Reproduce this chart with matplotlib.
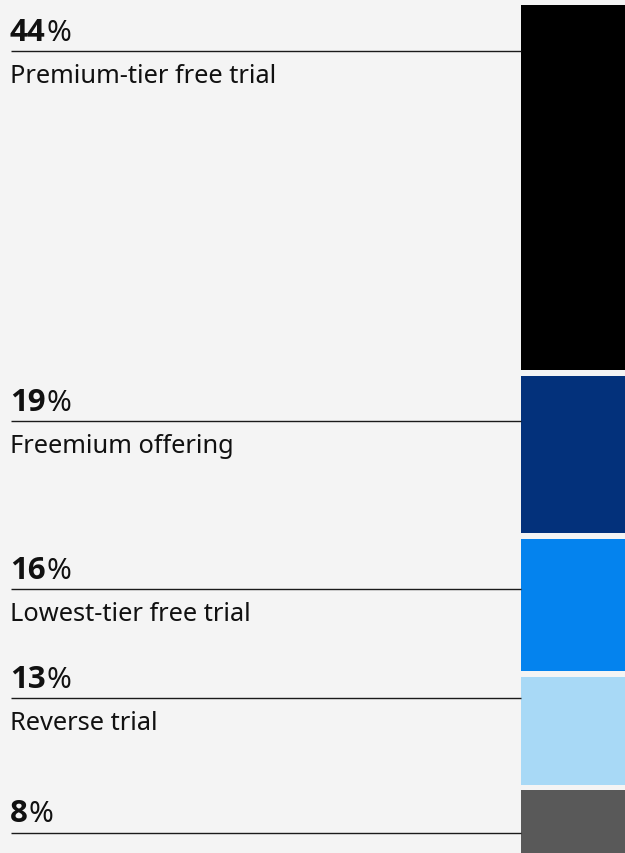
import matplotlib
matplotlib.use("Agg")
import matplotlib.pyplot as plt

# Share of respondents by trial model
categories = ["Premium-tier free trial", "Freemium offering", "Lowest-tier free trial",
              "Reverse trial", ""]
values = [44, 19, 16, 13, 8]
colors = ["#000000", "#03317b", "#0483ee", "#a8d9f6", "#595959"]

W, H = 625, 854
BG = "#f4f4f4"
FONT = "Noto Sans"
NUM_FONT = "Open Sans"

fig = plt.figure(figsize=(W / 100, H / 100), dpi=100, facecolor=BG)
ax = fig.add_axes([0, 0, 1, 1])
ax.set_facecolor(BG)
ax.set_xlim(0, W)
ax.set_ylim(H, 0)
ax.axis("off")

# stacked column on the right, scaled in pixels per percentage point
px_per_pct = 8.3
gap = 5.3
top = 6.0
bar_x0, bar_w = 521, 110
bottoms = []
y = top
for v in values:
    bottoms.append(y)
    y += v * px_per_pct + gap
ax.bar([bar_x0] * len(values), [v * px_per_pct for v in values], bottom=bottoms,
       width=bar_w, align="edge", color=colors, linewidth=0)

# label rules, placed so the text blocks do not collide
rule_y = [52.3, 422.3, 590.3, 699.3, 834.0]
x0 = 10
for v, lab, ry in zip(values, categories, rule_y):
    ax.plot([x0 + 1, bar_x0], [ry, ry], color="#1a1a1a", lw=1.0, solid_capstyle="butt")
    num = ax.text(x0, ry - 11.5, f"{v}", fontsize=22.5, fontweight="bold",
                  family=NUM_FONT, color="#111111", va="baseline", ha="left")
    ax.annotate("%", xy=(1, ry - 11.5), xycoords=(num, "data"), xytext=(0.8, 0),
                textcoords="offset points", fontsize=21.5,
                family=FONT, color="#111111", va="baseline", ha="left")
    if lab:
        ax.text(x0, ry + 31, lab, fontsize=18.3, family=FONT, color="#111111",
                va="baseline", ha="left")

fig.savefig("out.png", dpi=100, facecolor=BG)
